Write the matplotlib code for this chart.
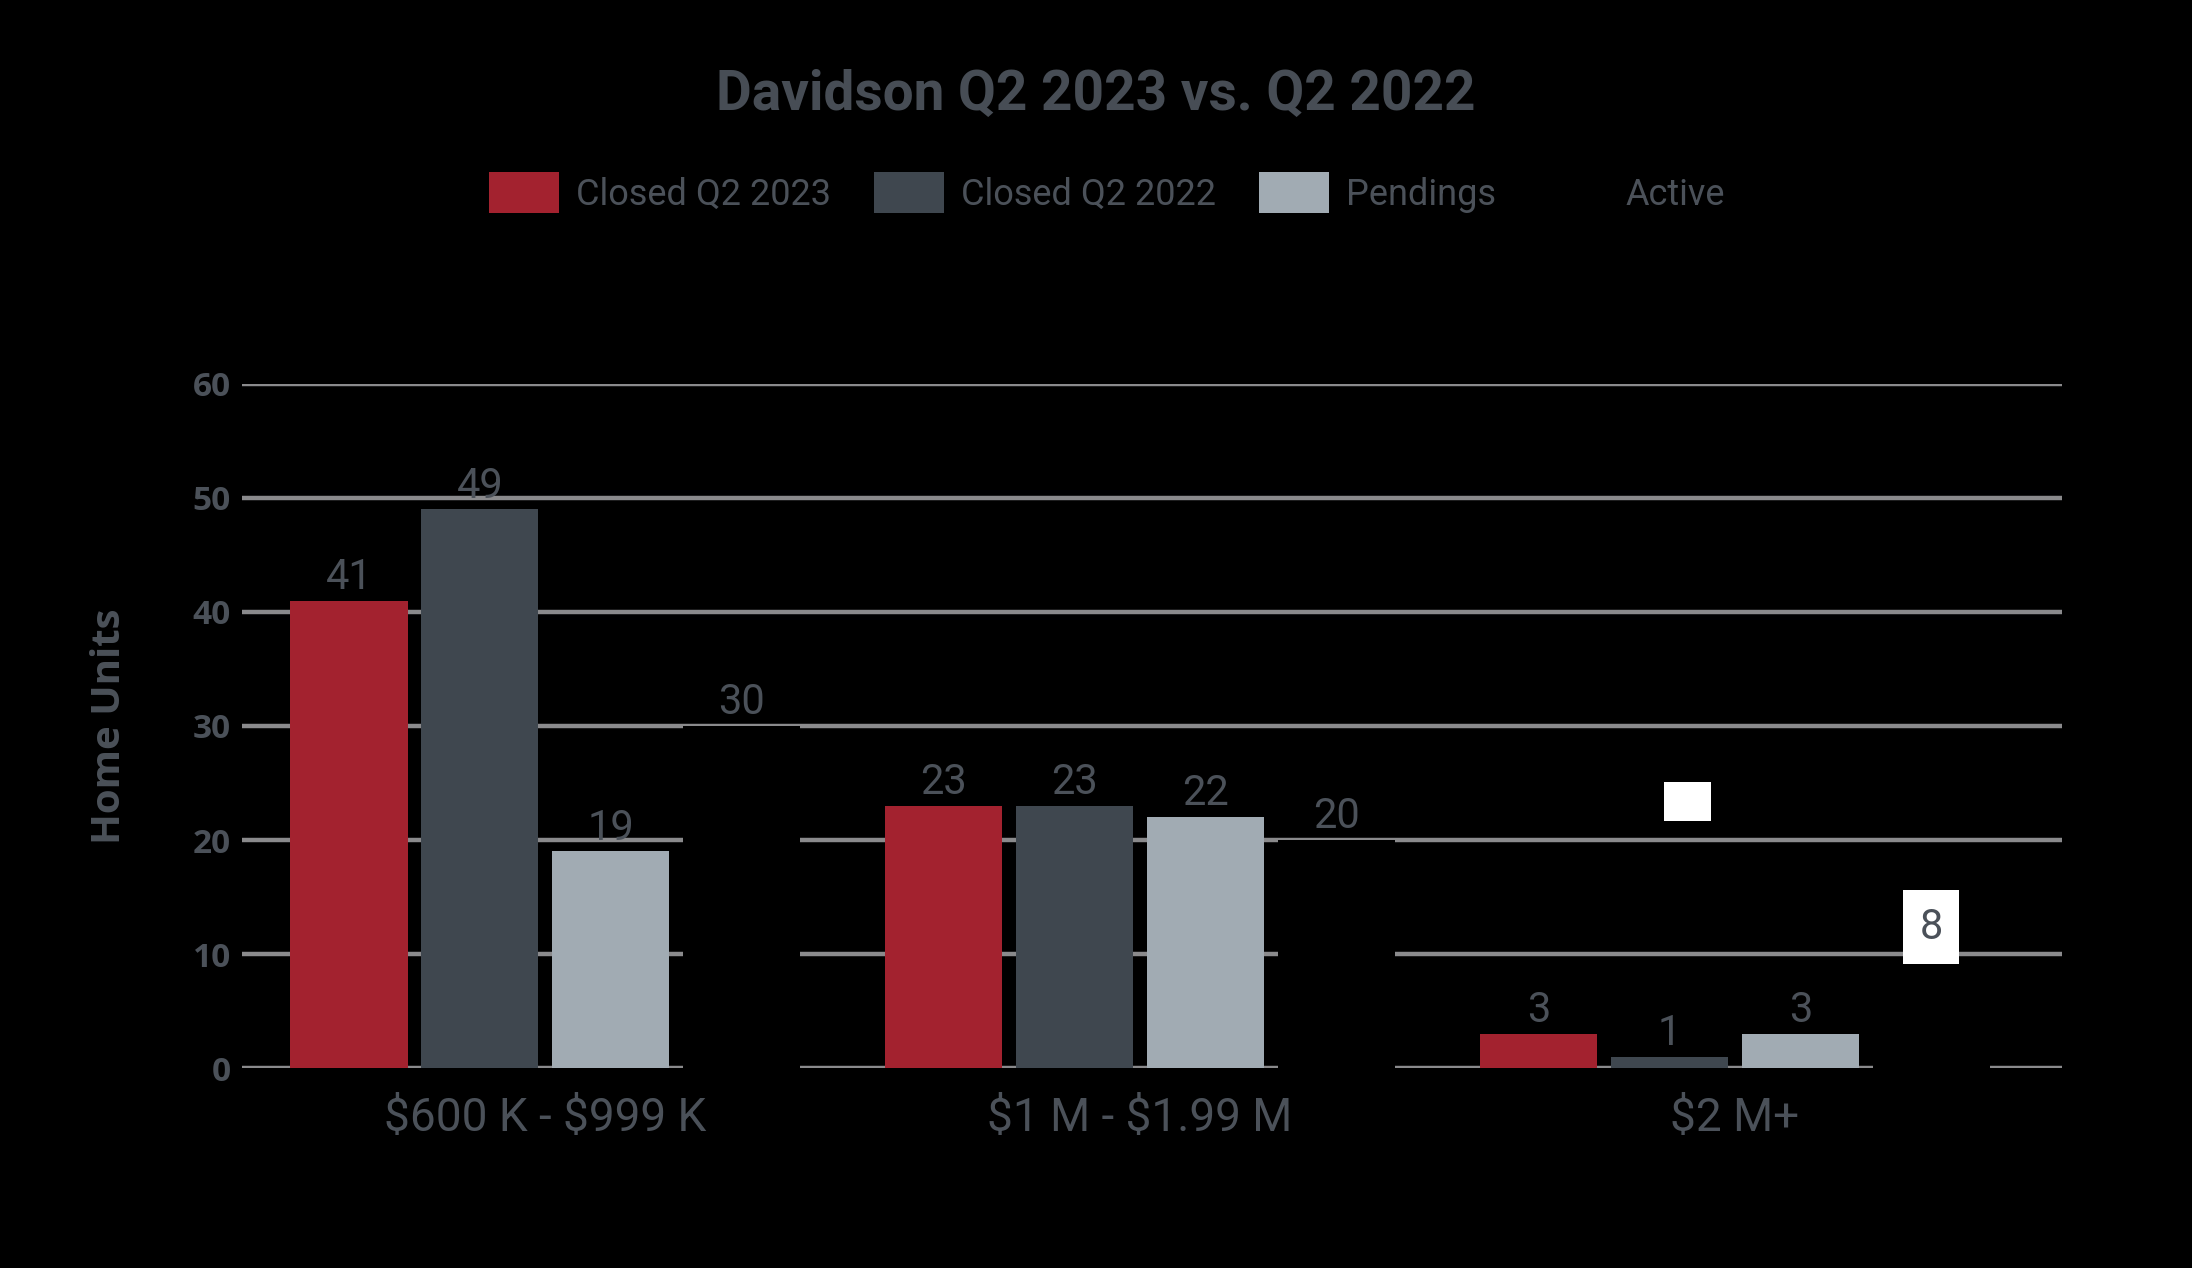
import matplotlib
matplotlib.use("Agg")
import matplotlib.pyplot as plt
import numpy as np

plt.rcParams["text.parse_math"] = False

# data
categories = ["$600 K - $999 K", "$1 M - $1.99 M", "$2 M+"]
series_names = ["Closed Q2 2023", "Closed Q2 2022", "Pendings", "Active"]
closed_2023 = [41, 23, 3]
closed_2022 = [49, 23, 1]
pendings = [19, 22, 3]
active = [30, 20, 8]

colors = ["#A3222F", "#3F474F", "#A1ABB3", "#000000"]
text_grey = "#4B5159"
grid_grey = "#8A8A8C"
narrow = ["Roboto", "DejaVu Sans"]
wide = ["Open Sans", "DejaVu Sans"]

def main():
    fig = plt.figure(figsize=(21.92, 12.68), dpi=100, facecolor="black")
    ax = fig.add_axes([0.1104, 0.1577, 0.8303, 0.5395], facecolor="black")

    x = np.arange(len(categories))
    offsets = [-0.330, -0.110, 0.110, 0.330]
    width = 0.197
    all_series = [closed_2023, closed_2022, pendings, active]

    for vals, off, col, name in zip(all_series, offsets, colors, series_names):
        bars = ax.bar(x + off, vals, width, color=col, label=name, zorder=3)
        for b, v in zip(bars, vals):
            if name == "Active" and v < 10:
                # label drawn in a white box, as in the source
                ax.annotate(str(v), (b.get_x() + b.get_width() / 2, v),
                            xytext=(0, 21), textcoords="offset points",
                            ha="center", va="bottom", fontsize=30,
                            family=narrow, color=text_grey, zorder=5,
                            bbox=dict(boxstyle="square,pad=0.4", fc="white", ec="none"))
            else:
                ax.annotate(str(v), (b.get_x() + b.get_width() / 2, v),
                            xytext=(0, 2), textcoords="offset points",
                            ha="center", va="bottom", fontsize=30,
                            family=narrow, color=text_grey, zorder=5)

    # stray empty white label box over the $2 M+ group
    ax.text(x[2] + offsets[1] + 0.03, 23.4, "\u2007\u2007", ha="center", va="center",
            fontsize=18, zorder=5,
            bbox=dict(boxstyle="square,pad=0.3", fc="white", ec="none"))

    ax.set_xlim(-0.51, 2.55)
    ax.set_ylim(0, 60)
    ax.set_yticks(range(0, 61, 10))
    ax.yaxis.grid(True, color=grid_grey, linewidth=3.2, zorder=1)
    ax.set_axisbelow(True)
    for s in ax.spines.values():
        s.set_visible(False)
    ax.tick_params(axis="both", length=0)
    ax.tick_params(axis="y", pad=8)
    ax.tick_params(axis="x", pad=20)
    ax.set_xticks(x)
    ax.set_xticklabels(categories, fontsize=33, family=narrow, color=text_grey)
    for t in ax.get_yticklabels():
        t.set_fontsize(24)
        t.set_fontweight("bold")
        t.set_family(wide)
        t.set_color(text_grey)
    ax.set_ylabel("Home Units", fontsize=29, fontweight="bold", family=wide,
                  color=text_grey, labelpad=46)

    fig.text(0.5, 0.925, "Davidson Q2 2023 vs. Q2 2022", ha="center", va="center",
             fontsize=39.5, fontweight="bold", family=narrow, color="#474D55")

    leg = fig.legend(loc="center", bbox_to_anchor=(0.505, 0.848), ncol=4,
                     frameon=False, handlelength=1.95, handleheight=1.35,
                     handletextpad=0.45, columnspacing=1.2,
                     prop={"family": narrow, "size": 26})
    for t in leg.get_texts():
        t.set_color(text_grey)

    fig.savefig("out.png", dpi=100, facecolor="black")

if __name__ == '__main__':
    main()
